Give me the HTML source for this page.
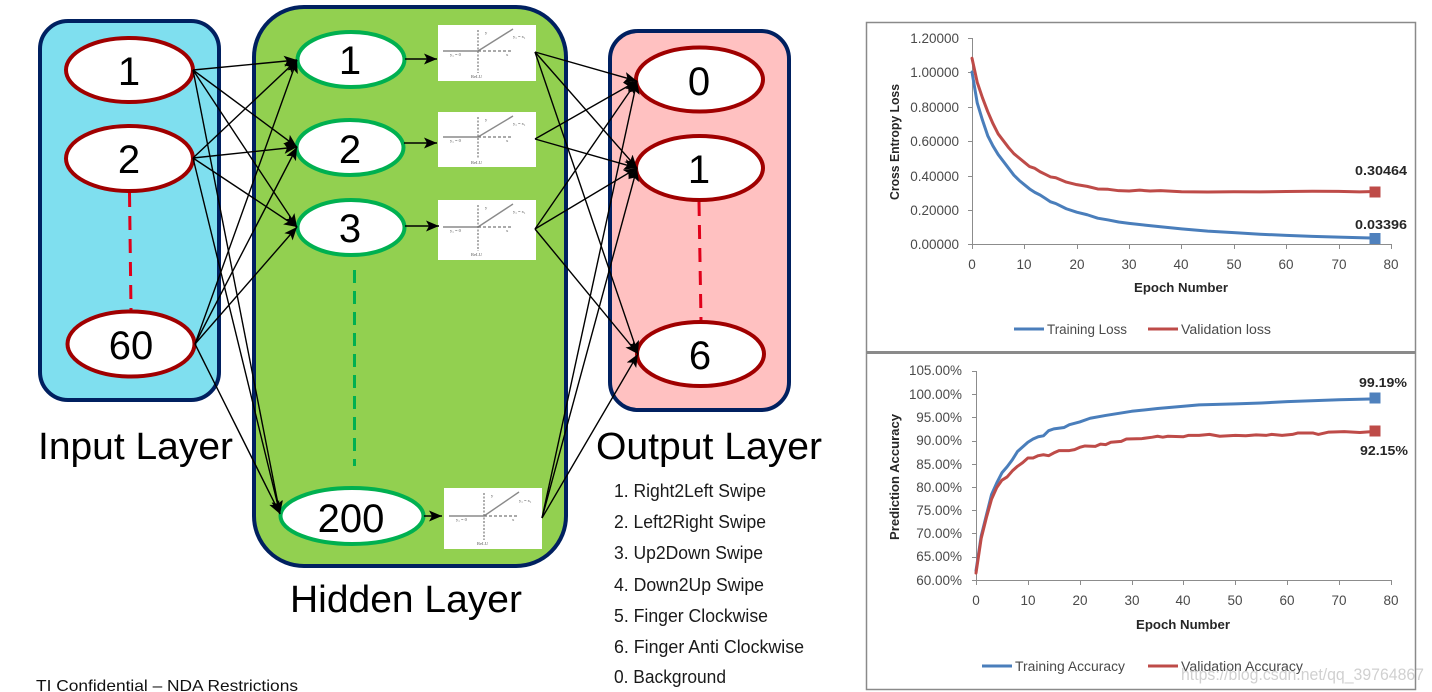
<!DOCTYPE html>
<html>
<head>
<meta charset="utf-8">
<style>
html,body{margin:0;padding:0;background:#fff;}
svg{display:block;font-family:"Liberation Sans",sans-serif;}
.dg{font-size:40px;text-anchor:middle;fill:#000;}
.li{font-size:18px;fill:#1a1a1a;}
.t{font-size:13.5px;fill:#4a4a4a;}
.te{font-size:13.5px;fill:#4a4a4a;text-anchor:end;}
.tm{font-size:13.5px;fill:#4a4a4a;text-anchor:middle;}
.b{font-size:13px;font-weight:bold;fill:#262626;}
.ax{stroke:#8c8c8c;stroke-width:1;fill:none;}
.cv{fill:none;stroke-width:3;stroke-linejoin:round;stroke-linecap:round;}
.c{stroke:#000;stroke-width:1.4;fill:none;marker-end:url(#ah);}
.s{stroke:#000;stroke-width:1.4;fill:none;marker-end:url(#ah);}
.r{font-size:4.5px;fill:#555;font-family:"Liberation Serif",serif;}
.k{stroke:#8a8a8a;stroke-width:1.400;}
.d{stroke:#777;stroke-width:1.200;}
</style>
</head>
<body>
<svg width="1432" height="692" viewBox="0 0 1432 692" xmlns="http://www.w3.org/2000/svg">
<defs>
<marker id="ah" markerUnits="userSpaceOnUse" markerWidth="15" markerHeight="12" refX="13" refY="5.500" orient="auto">
<path d="M0,0 L13,5.500 L0,11 L3,5.500 Z" fill="#000"/>
</marker>
</defs>
<rect width="1432" height="692" fill="#fff"/>

<!-- layer boxes -->
<rect x="40" y="21" width="179" height="379" rx="28" fill="#7fdfef" stroke="#002060" stroke-width="4"/>
<rect x="254" y="7" width="312" height="559" rx="50" fill="#92d050" stroke="#002060" stroke-width="4"/>
<rect x="610" y="31" width="179" height="379" rx="28" fill="#ffc1c1" stroke="#002060" stroke-width="4"/>

<!-- dashed -->
<line x1="129.5" y1="193" x2="131" y2="310" stroke="#e0001a" stroke-width="3" stroke-dasharray="14 9"/>
<line x1="699" y1="202" x2="701" y2="320" stroke="#e0001a" stroke-width="3" stroke-dasharray="14 9"/>
<line x1="354.500" y1="270" x2="354.500" y2="466" stroke="#00b050" stroke-width="3" stroke-dasharray="13 8"/>

<!-- relu images -->
<g transform="translate(438,25)">
<rect width="98" height="56" fill="#fff"/>
<line class="k" x1="5" y1="26" x2="40" y2="26"/>
<line class="k" x1="40" y1="26" x2="75" y2="4"/>
<line class="d" x1="40" y1="26" x2="74" y2="26" stroke-dasharray="3 2"/>
<line class="d" x1="40" y1="5" x2="40" y2="48" stroke-dasharray="2 1.500"/>
<text class="r" x="47" y="9">y</text><text class="r" x="75" y="13">y₁ = x₁</text><text class="r" x="12" y="31">y₁ = 0</text><text class="r" x="68" y="31">x</text><text class="r" x="33" y="53">ReLU</text>
</g>
<g transform="translate(438,112)">
<rect width="98" height="55" fill="#fff"/>
<line class="k" x1="5" y1="25" x2="40" y2="25"/>
<line class="k" x1="40" y1="25" x2="75" y2="4"/>
<line class="d" x1="40" y1="25" x2="74" y2="25" stroke-dasharray="3 2"/>
<line class="d" x1="40" y1="5" x2="40" y2="47" stroke-dasharray="2 1.500"/>
<text class="r" x="47" y="9">y</text><text class="r" x="75" y="13">y₁ = x₁</text><text class="r" x="12" y="30">y₁ = 0</text><text class="r" x="68" y="30">x</text><text class="r" x="33" y="52">ReLU</text>
</g>
<g transform="translate(438,200)">
<rect width="98" height="60" fill="#fff"/>
<line class="k" x1="5" y1="27" x2="40" y2="27"/>
<line class="k" x1="40" y1="27" x2="75" y2="4"/>
<line class="d" x1="40" y1="27" x2="74" y2="27" stroke-dasharray="3 2"/>
<line class="d" x1="40" y1="5" x2="40" y2="51" stroke-dasharray="2 1.500"/>
<text class="r" x="47" y="9">y</text><text class="r" x="75" y="13">y₁ = x₁</text><text class="r" x="12" y="32">y₁ = 0</text><text class="r" x="68" y="32">x</text><text class="r" x="33" y="56">ReLU</text>
</g>
<g transform="translate(444,488)">
<rect width="98" height="61" fill="#fff"/>
<line class="k" x1="5" y1="28" x2="40" y2="28"/>
<line class="k" x1="40" y1="28" x2="75" y2="4"/>
<line class="d" x1="40" y1="28" x2="74" y2="28" stroke-dasharray="3 2"/>
<line class="d" x1="40" y1="5" x2="40" y2="52" stroke-dasharray="2 1.500"/>
<text class="r" x="47" y="9">y</text><text class="r" x="75" y="14">y₁ = x₁</text><text class="r" x="12" y="33">y₁ = 0</text><text class="r" x="68" y="33">x</text><text class="r" x="33" y="57">ReLU</text>
</g>

<!-- ellipses -->
<g fill="#fff" stroke="#a00000" stroke-width="4">
<ellipse cx="129.500" cy="70" rx="63.500" ry="32"/>
<ellipse cx="129.500" cy="158.500" rx="63.500" ry="32.500"/>
<ellipse cx="131" cy="344" rx="63.500" ry="32.500"/>
<ellipse cx="699.500" cy="79.500" rx="63.500" ry="32"/>
<ellipse cx="699.500" cy="168" rx="63.500" ry="32"/>
<ellipse cx="700.500" cy="354" rx="63.500" ry="32"/>
</g>
<g fill="#fff" stroke="#00b050" stroke-width="4">
<ellipse cx="351" cy="59.500" rx="53.500" ry="27.500"/>
<ellipse cx="350" cy="147.500" rx="53.500" ry="27.500"/>
<ellipse cx="351" cy="227.500" rx="53.500" ry="27.500"/>
<ellipse cx="352" cy="516" rx="71.500" ry="28"/>
</g>

<!-- connectors -->
<g class="conn">
<line class="c" x1="193" y1="70" x2="297" y2="60"/>
<line class="c" x1="193" y1="70" x2="297" y2="147"/>
<line class="c" x1="193" y1="70" x2="297" y2="227"/>
<line class="c" x1="193" y1="70" x2="280" y2="514"/>
<line class="c" x1="193" y1="158" x2="297" y2="60"/>
<line class="c" x1="193" y1="158" x2="297" y2="147"/>
<line class="c" x1="193" y1="158" x2="297" y2="227"/>
<line class="c" x1="193" y1="158" x2="280" y2="514"/>
<line class="c" x1="195" y1="344" x2="297" y2="60"/>
<line class="c" x1="195" y1="344" x2="297" y2="147"/>
<line class="c" x1="195" y1="344" x2="297" y2="227"/>
<line class="c" x1="195" y1="344" x2="280" y2="514"/>
<line class="c" x1="535" y1="52" x2="637" y2="81"/>
<line class="c" x1="535" y1="52" x2="637" y2="168"/>
<line class="c" x1="535" y1="52" x2="638" y2="354"/>
<line class="c" x1="535" y1="139" x2="637" y2="81"/>
<line class="c" x1="535" y1="139" x2="637" y2="168"/>
<line class="c" x1="535" y1="229" x2="637" y2="81"/>
<line class="c" x1="535" y1="229" x2="637" y2="168"/>
<line class="c" x1="535" y1="229" x2="638" y2="354"/>
<line class="c" x1="542" y1="518" x2="637" y2="81"/>
<line class="c" x1="542" y1="518" x2="637" y2="168"/>
<line class="c" x1="542" y1="518" x2="638" y2="354"/>
<line class="s" x1="405" y1="59" x2="437" y2="59"/>
<line class="s" x1="404" y1="143" x2="437" y2="143"/>
<line class="s" x1="405" y1="226" x2="439" y2="226"/>
<line class="s" x1="424" y1="516" x2="442" y2="516"/>
</g>

<!-- digits -->
<text class="dg" x="129" y="85">1</text>
<text class="dg" x="129" y="173">2</text>
<text class="dg" x="131" y="359">60</text>
<text class="dg" x="350" y="74">1</text>
<text class="dg" x="350" y="163">2</text>
<text class="dg" x="350" y="242">3</text>
<text class="dg" x="351" y="532">200</text>
<text class="dg" x="699" y="95">0</text>
<text class="dg" x="699" y="183">1</text>
<text class="dg" x="700" y="369">6</text>

<!-- layer titles -->
<text x="38" y="459" font-size="38" textLength="195" lengthAdjust="spacingAndGlyphs">Input Layer</text>
<text x="290" y="612" font-size="38" textLength="232" lengthAdjust="spacingAndGlyphs">Hidden Layer</text>
<text x="596" y="459" font-size="38" textLength="226" lengthAdjust="spacingAndGlyphs">Output Layer</text>

<!-- class list -->
<text class="li" x="614" y="497" textLength="152" lengthAdjust="spacingAndGlyphs">1. Right2Left Swipe</text>
<text class="li" x="614" y="528" textLength="152" lengthAdjust="spacingAndGlyphs">2. Left2Right Swipe</text>
<text class="li" x="614" y="559" textLength="149" lengthAdjust="spacingAndGlyphs">3. Up2Down Swipe</text>
<text class="li" x="614" y="591" textLength="150" lengthAdjust="spacingAndGlyphs">4. Down2Up Swipe</text>
<text class="li" x="614" y="622" textLength="154" lengthAdjust="spacingAndGlyphs">5. Finger Clockwise</text>
<text class="li" x="614" y="653" textLength="190" lengthAdjust="spacingAndGlyphs">6. Finger Anti Clockwise</text>
<text class="li" x="614" y="683" textLength="112" lengthAdjust="spacingAndGlyphs">0. Background</text>

<text x="36" y="691" font-size="16" fill="#111" textLength="262" lengthAdjust="spacingAndGlyphs">TI Confidential  – NDA Restrictions</text>

<!-- chart panels -->
<rect x="866.500" y="22.500" width="549" height="667" fill="#fff" stroke="#8a8a8a" stroke-width="1.500"/>
<line x1="866" y1="352.500" x2="1416" y2="352.500" stroke="#8a8a8a" stroke-width="3"/>

<!-- chart 1 -->
<path class="ax" d="M972.500,38V244.500M968,38.500H972.500M968,72.500H972.500M968,107.500H972.500M968,141.500H972.500M968,176.500H972.500M968,210.500H972.500M968,244.500H972.500"/>
<path class="ax" d="M972,244.500H1391M972.500,244V249M1024.500,244V249M1077.500,244V249M1129.500,244V249M1181.500,244V249M1234.500,244V249M1286.500,244V249M1339.500,244V249M1391.500,244V249"/>
<g class="te">
<text x="959" y="43">1.20000</text>
<text x="959" y="77">1.00000</text>
<text x="959" y="112">0.80000</text>
<text x="959" y="146">0.60000</text>
<text x="959" y="181">0.40000</text>
<text x="959" y="215">0.20000</text>
<text x="959" y="249">0.00000</text>
</g>
<g class="tm">
<text x="972" y="269">0</text><text x="1024" y="269">10</text><text x="1077" y="269">20</text><text x="1129" y="269">30</text><text x="1181" y="269">40</text><text x="1234" y="269">50</text><text x="1286" y="269">60</text><text x="1339" y="269">70</text><text x="1391" y="269">80</text>
</g>
<text class="b" x="1134" y="292" textLength="94" lengthAdjust="spacingAndGlyphs">Epoch Number</text>
<text class="b" transform="translate(899,200) rotate(-90)" textLength="116" lengthAdjust="spacingAndGlyphs">Cross Entropy Loss</text>
<g transform="translate(972,244) scale(5.2375,-172)">
<polyline class="cv" vector-effect="non-scaling-stroke" stroke="#4a7ebb" points="0,1 1,.82 2,.72 3,.63 4,.57 5,.52 6,.48 7,.44 8,.4 9,.37 10,.345 11,.32 12,.3 13,.285 14,.265 15,.245 16,.235 18,.205 20,.185 22,.17 24,.15 26,.14 28,.128 30,.12 33,.11 36,.1 40,.088 45,.075 50,.066 55,.057 60,.05 65,.044 70,.04 77,.034"/>
<polyline class="cv" vector-effect="non-scaling-stroke" stroke="#be4b48" points="0,1.08 1,.94 2,.85 3,.77 4,.7 5,.64 6,.6 7,.56 8,.525 9,.5 10,.475 11,.45 12,.44 13,.42 14,.405 15,.39 16,.385 18,.36 20,.345 22,.335 24,.32 26,.318 28,.31 30,.308 32,.313 34,.308 36,.31 40,.304 45,.302 50,.304 55,.303 60,.305 65,.307 70,.306 74,.303 77,.305"/>
</g>
<rect x="1369.500" y="186.500" width="11" height="11" fill="#be4b48"/>
<rect x="1369.500" y="233" width="11" height="11" fill="#4f81bd"/>
<text class="b" x="1355" y="175" textLength="52" lengthAdjust="spacingAndGlyphs">0.30464</text>
<text class="b" x="1355" y="229" textLength="52" lengthAdjust="spacingAndGlyphs">0.03396</text>
<line x1="1014" y1="329" x2="1044" y2="329" stroke="#4a7ebb" stroke-width="3"/>
<text class="t" x="1047" y="334" textLength="80" lengthAdjust="spacingAndGlyphs">Training Loss</text>
<line x1="1148" y1="329" x2="1178" y2="329" stroke="#be4b48" stroke-width="3"/>
<text class="t" x="1181" y="334" textLength="90" lengthAdjust="spacingAndGlyphs">Validation loss</text>

<!-- chart 2 -->
<path class="ax" d="M976.500,371V580.500M972,371.500H976.500M972,394.500H976.500M972,417.500H976.500M972,441.500H976.500M972,464.500H976.500M972,487.500H976.500M972,510.500H976.500M972,533.500H976.500M972,557.500H976.500M972,580.500H976.500"/>
<path class="ax" d="M976,580.500H1391M976.500,580V585M1028.500,580V585M1080.500,580V585M1132.500,580V585M1183.500,580V585M1235.500,580V585M1287.500,580V585M1339.500,580V585M1391.500,580V585"/>
<g class="te">
<text x="962" y="375" textLength="53" lengthAdjust="spacingAndGlyphs">105.00%</text>
<text x="962" y="399" textLength="53" lengthAdjust="spacingAndGlyphs">100.00%</text>
<text x="962" y="422">95.00%</text>
<text x="962" y="445">90.00%</text>
<text x="962" y="469">85.00%</text>
<text x="962" y="492">80.00%</text>
<text x="962" y="515">75.00%</text>
<text x="962" y="538">70.00%</text>
<text x="962" y="561">65.00%</text>
<text x="962" y="585">60.00%</text>
</g>
<g class="tm">
<text x="976" y="605">0</text><text x="1028" y="605">10</text><text x="1080" y="605">20</text><text x="1132" y="605">30</text><text x="1183" y="605">40</text><text x="1235" y="605">50</text><text x="1287" y="605">60</text><text x="1339" y="605">70</text><text x="1391" y="605">80</text>
</g>
<text class="b" x="1136" y="629" textLength="94" lengthAdjust="spacingAndGlyphs">Epoch Number</text>
<text class="b" transform="translate(899,540) rotate(-90)" textLength="126" lengthAdjust="spacingAndGlyphs">Prediction Accuracy</text>
<g transform="translate(976,580) scale(5.1875,-4.622) translate(0,-60)">
<polyline class="cv" vector-effect="non-scaling-stroke" stroke="#4a7ebb" points="0,62 1,69.5 2,74 3,78.5 4,81 5,83.2 6,84.5 7,86 8,87.8 9,88.8 10,89.8 11,90.5 12,91 13,91.2 14,92.3 15,92.7 17,93 18,93.6 20,94.2 22,95 25,95.6 30,96.5 35,97.1 40,97.6 43,97.9 50,98.1 55,98.3 60,98.6 70,99 77,99.19"/>
<polyline class="cv" vector-effect="non-scaling-stroke" stroke="#be4b48" points="0,61.5 1,69 2,73.5 3,77.5 4,80 5,81.6 6,82.3 7,83.6 8,84.6 9,85.4 10,86.4 11,86.4 12,86.9 13,87.1 14,86.9 15,87.5 16,88 18,88 19,88.2 20,88.7 21,89 23,88.9 24,89.4 25,89.3 26,89.8 28,90 29,90.5 32,90.6 34,90.9 35,91.1 36,90.9 37,91.1 40,91 41,91.3 43,91.3 45,91.5 47,91.1 50,91.3 52,91.2 54,91.4 56,91.3 57,91.5 59,91.3 61,91.5 62,91.8 65,91.8 66,91.5 68,92 71,92.1 74,91.9 77,92.15"/>
</g>
<rect x="1369.500" y="392.500" width="11" height="11" fill="#4f81bd"/>
<rect x="1369.500" y="425.500" width="11" height="11" fill="#be4b48"/>
<text class="b" x="1359" y="387" textLength="48" lengthAdjust="spacingAndGlyphs">99.19%</text>
<text class="b" x="1360" y="455" textLength="48" lengthAdjust="spacingAndGlyphs">92.15%</text>
<line x1="982" y1="666" x2="1012" y2="666" stroke="#4a7ebb" stroke-width="3"/>
<text class="t" x="1015" y="671" textLength="110" lengthAdjust="spacingAndGlyphs">Training Accuracy</text>
<line x1="1148" y1="666" x2="1178" y2="666" stroke="#be4b48" stroke-width="3"/>
<text class="t" x="1181" y="671" textLength="122" lengthAdjust="spacingAndGlyphs">Validation Accuracy</text>

<!-- watermark -->
<text x="1181" y="680" font-size="17" fill="#aaaaaa" fill-opacity="0.55" textLength="243" lengthAdjust="spacingAndGlyphs">https://blog.csdn.net/qq_39764867</text>
</svg>
</body>
</html>
